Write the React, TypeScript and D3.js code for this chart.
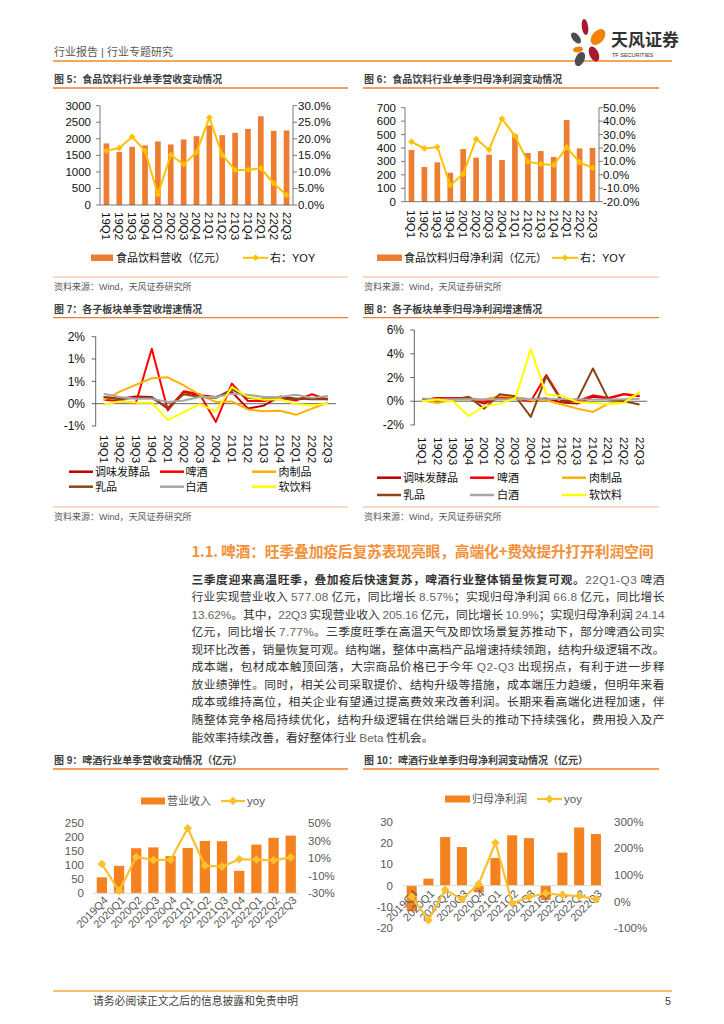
import React from "react";
import * as d3 from "d3";

// ---------------- DATA ----------------
const quarters = ["19Q1","19Q2","19Q3","19Q4","20Q1","20Q2","20Q3","20Q4","21Q1","21Q2","21Q3","21Q4","22Q1","22Q2","22Q3"];
const fbRevenue = [1860,1600,1760,1800,1920,1830,1980,2080,2400,2110,2180,2300,2680,2240,2250];
const fbRevenueYoy = [16.4,17.2,20.6,16.4,3.2,15.1,12.3,15.9,26.4,15.1,10.6,10.6,11.1,6.5,3.0];
const fbProfit = [385,258,293,216,392,328,350,310,501,362,377,333,608,397,400];
const fbProfitYoy = [24.6,19.7,20.7,-7.8,0.6,26.7,18.7,41.8,28.9,9.8,8.0,7.3,20.5,9.3,5.3];

const fig5LeftTicks = [0,500,1000,1500,2000,2500,3000];
const fig5RightTicks = [0,5,10,15,20,25,30];
const fig6LeftTicks = [0,100,200,300,400,500,600,700];
const fig6RightTicks = [-20,-10,0,10,20,30,40,50];

const sectorNames = ["调味发酵品","啤酒","肉制品","乳品","白酒","软饮料"];
// Fig 7: revenue growth (%)
const revSeasoning = [0.15,0.11,0.16,0.15,-0.11,0.26,0.19,0.15,0.26,-0.11,-0.04,0.16,0.11,0.11,0.11];
const revBeer = [0.09,0.06,0.01,1.23,-0.15,0.28,0.21,-0.41,0.45,0.06,0.06,0.13,0.07,0.21,0.09];
const revMeat = [0.08,0.27,0.42,0.57,0.59,0.41,0.2,0.04,0.05,-0.13,-0.17,-0.16,-0.25,-0.11,0.02];
const revDairy = [0.15,0.10,0.13,0.13,-0.09,0.21,0.15,0.13,0.32,0.13,0.10,0.10,0.11,0.10,0.10];
const revLiquor = [0.22,0.15,0.11,0.11,0.04,0.07,0.15,0.15,0.22,0.20,0.15,0.15,0.20,0.13,0.17];
const revSoft = [-0.02,0.05,0.02,0.02,-0.37,-0.19,-0.01,-0.17,0.37,0.15,0.09,0.10,-0.01,-0.04,0.00];
const fig7TickValues = [-0.5,0,0.5,1,1.5];
const fig7TickLabels = ["-1%","0%","1%","1%","2%"];
// Fig 8: net profit growth (%)
const npSeasoning = [0.08,0.28,0.23,0.23,-0.2,0.37,0.28,0.17,0.23,-0.11,-0.2,0.37,0.23,0.59,0.42];
const npBeer = [0.14,0.23,0.28,0.28,0.0,0.23,0.23,0.0,2.2,0.08,0.0,0.5,0.28,0.62,0.45];
const npMeat = [0.08,-0.14,0.14,0.14,0.14,0.45,0.37,0.08,0.08,-0.28,-0.62,-0.9,-0.2,0.0,0.7];
const npDairy = [0.14,0.08,0.14,0.37,-0.62,0.59,0.42,-1.32,2.11,-0.06,0.14,2.76,0.14,0.0,-0.28];
const npLiquor = [0.23,0.14,0.17,0.17,0.14,0.17,0.17,0.2,0.17,0.2,0.14,0.14,0.14,0.17,0.2];
const npSoft = [0.0,0.14,0.0,-1.24,-0.42,-0.2,0.23,4.39,0.56,0.45,-0.06,-0.14,-0.25,-0.14,0.79];
const fig8TickValues = [-2,0,2,4,6];

const beerQuarters = ["2019Q4","2020Q1","2020Q2","2020Q3","2020Q4","2021Q1","2021Q2","2021Q3","2021Q4","2022Q1","2022Q2","2022Q3"];
const beerRevenue = [57,98,161,164,133,162,187,186,80,174,198,206];
const beerRevenueYoy = [3.5,-27.3,11.5,8.1,8.1,44.3,1.6,0.5,8.9,8.5,7.7,11.1];
const beerProfit = [-12,3.3,22.8,18.1,-3.1,13,23.6,22.3,-6.7,15.5,27.3,24.2];
const beerProfitYoy = [19,-70,45,9,66,221,-6,17.5,31,25,21,9];
const fig9LeftTicks = [0,50,100,150,200,250];
const fig9RightTicks = [-30,-10,10,30,50];
const fig10LeftTicks = [-20,-10,0,10,20,30];
const fig10RightTicks = [-100,0,100,200,300];

// ---------------- STYLE ----------------
const FONT = "'Liberation Sans', Arial, 'Noto Sans CJK SC', sans-serif";
const BAR = "#ED7D31";
const LINE = "#FFC000";
const BAR2 = "#F4821F";
const LINE2 = "#FBC02D";
const TITLE_LINE = "#ED7D31";
const sectorColors = ["#C00000","#FF0000","#FFB000","#8B4513","#A6A6A6","#FFFF00"];

const diamond = (cx: number, cy: number, s: number) =>
  `M${cx},${cy - s}L${cx + s},${cy}L${cx},${cy + s}L${cx - s},${cy}Z`;

function FigTitle({ x1, x2, y, text }: { x1: number; x2: number; y: number; text: string }) {
  return (
    <g>
      <text x={x1 + 1} y={y - 5} fontSize={10} fontWeight={700} fill="#404040">{text}</text>
      <line x1={x1} x2={x2} y1={y} y2={y} stroke={TITLE_LINE} strokeWidth={1.3} />
    </g>
  );
}

function Source({ x1, x2, y }: { x1: number; x2: number; y: number }) {
  return (
    <g>
      <line x1={x1} x2={x2} y1={y} y2={y} stroke="#F2A66B" strokeWidth={0.8} />
      <text x={x1 + 1} y={y + 13} fontSize={9} fill="#595959">资料来源：Wind，天风证券研究所</text>
    </g>
  );
}

function ComboA(props: any) {
  const { x0, x1, yTop, yBot, bars, yoy, leftDomain, rightDomain, leftTicks, rightTicks, leftLabelX, rightLabelX, catY } = props;
  const x = d3.scaleBand<string>().domain(quarters).range([x0, x1]);
  const yl = d3.scaleLinear().domain(leftDomain).range([yBot, yTop]);
  const yr = d3.scaleLinear().domain(rightDomain).range([yBot, yTop]);
  const bw = x.bandwidth() * 0.44;
  const cx = (i: number) => (x(quarters[i]) as number) + x.bandwidth() / 2;
  const line = d3.line<number>().x((_, i) => cx(i)).y((d) => yr(d));
  const fmtR = (v: number) => v.toFixed(1) + "%";
  return (
    <g>
      {bars.map((v: number, i: number) => (
        <rect key={i} x={cx(i) - bw / 2} y={yl(v)} width={bw} height={yl(leftDomain[0]) - yl(v)} fill={BAR} />
      ))}
      <line x1={x0} x2={x0} y1={yTop} y2={yBot} stroke="#595959" strokeWidth={0.8} />
      <line x1={x1} x2={x1} y1={yTop} y2={yBot} stroke="#595959" strokeWidth={0.8} />
      <line x1={x0} x2={x1} y1={yBot} y2={yBot} stroke="#595959" strokeWidth={0.8} />
      {leftTicks.map((t: number) => (
        <g key={"l" + t}>
          <line x1={x0 - 4} x2={x0} y1={yl(t)} y2={yl(t)} stroke="#595959" strokeWidth={0.8} />
          <text x={leftLabelX} y={yl(t)} dy="0.35em" textAnchor="end" fontSize={11.5} fill="#111">{t}</text>
        </g>
      ))}
      {rightTicks.map((t: number) => (
        <g key={"r" + t}>
          <line x1={x1} x2={x1 + 4} y1={yr(t)} y2={yr(t)} stroke="#595959" strokeWidth={0.8} />
          <text x={rightLabelX} y={yr(t)} dy="0.35em" fontSize={11.5} fill="#111">{fmtR(t)}</text>
        </g>
      ))}
      {quarters.map((q, i) => (
        <text key={q} transform={`translate(${cx(i)},${catY}) rotate(90)`} dy="0.35em" fontSize={11.5} fill="#111">{q}</text>
      ))}
      <path d={line(yoy) as string} fill="none" stroke={LINE} strokeWidth={2} />
      {yoy.map((v: number, i: number) => (
        <path key={i} d={diamond(cx(i), yr(v), 3.3)} fill={LINE} />
      ))}
    </g>
  );
}

function LinesChart(props: any) {
  const { x0, x1, yTop, yBot, domain, series, tickValues, tickLabels, labelX, catY } = props;
  const x = d3.scaleBand<string>().domain(quarters).range([x0, x1]);
  const y = d3.scaleLinear().domain(domain).range([yBot, yTop]);
  const cx = (i: number) => (x(quarters[i]) as number) + x.bandwidth() / 2;
  const line = d3.line<number>().x((_, i) => cx(i)).y((d) => y(d));
  return (
    <g>
      <line x1={x0} x2={x0} y1={yTop} y2={yBot} stroke="#404040" strokeWidth={0.8} />
      {tickValues.map((t: number, k: number) => (
        <g key={k}>
          <line x1={x0 - 4} x2={x0} y1={y(t)} y2={y(t)} stroke="#404040" strokeWidth={0.8} />
          <text x={labelX} y={y(t)} dy="0.35em" textAnchor="end" fontSize={12} fill="#111">{tickLabels[k]}</text>
        </g>
      ))}
      <line x1={x0} x2={x1} y1={y(0)} y2={y(0)} stroke="#404040" strokeWidth={0.8} />
      {series.map((s: number[], k: number) => (
        <path key={k} d={line(s) as string} fill="none" stroke={sectorColors[k]} strokeWidth={2} strokeLinejoin="round" />
      ))}
      {quarters.map((q, i) => (
        <text key={q} transform={`translate(${cx(i)},${catY}) rotate(90)`} dy="0.35em" fontSize={11.5} fill="#111">{q}</text>
      ))}
    </g>
  );
}

function SectorLegend({ rows, swX, txX }: { rows: number[]; swX: number[]; txX: number[] }) {
  return (
    <g>
      {sectorNames.map((n, k) => {
        const r = Math.floor(k / 3);
        const c = k % 3;
        return (
          <g key={n}>
            <line x1={swX[c]} x2={swX[c] + 24} y1={rows[r]} y2={rows[r]} stroke={sectorColors[k]} strokeWidth={2.5} />
            <text x={txX[c]} y={rows[r]} dy="0.35em" fontSize={11} fill="#111">{n}</text>
          </g>
        );
      })}
    </g>
  );
}

function ComboB(props: any) {
  const { x0, x1, yTop, yBot, bars, yoy, leftDomain, rightDomain, leftTicks, rightTicks, leftLabelX, rightLabelX, catDy } = props;
  const x = d3.scaleBand<string>().domain(beerQuarters).range([x0, x1]);
  const yl = d3.scaleLinear().domain(leftDomain).range([yBot, yTop]);
  const yr = d3.scaleLinear().domain(rightDomain).range([yBot, yTop]);
  const bw = x.bandwidth() * 0.6;
  const cx = (i: number) => (x(beerQuarters[i]) as number) + x.bandwidth() / 2;
  const line = d3.line<number>().x((_, i) => cx(i)).y((d) => yr(d / 100));
  const y0 = yl(0);
  return (
    <g>
      {leftTicks.map((t: number) => (
        <text key={"l" + t} x={leftLabelX} y={yl(t)} dy="0.35em" textAnchor="end" fontSize={11.5} fill="#595959">{t}</text>
      ))}
      {rightTicks.map((t: number) => (
        <text key={"r" + t} x={rightLabelX} y={yr(t / 100)} dy="0.35em" fontSize={11.5} fill="#595959">{t + "%"}</text>
      ))}
      {bars.map((v: number, i: number) => (
        <rect key={i} x={cx(i) - bw / 2} y={Math.min(yl(v), y0)} width={bw} height={Math.abs(yl(v) - y0)} fill={BAR2} />
      ))}
      <line x1={x0} x2={x1} y1={y0} y2={y0} stroke="#D9D9D9" strokeWidth={1} />
      {beerQuarters.map((q, i) => (
        <text key={q} transform={`translate(${cx(i) + 4},${y0 + catDy}) rotate(-45)`} dy="0.35em" textAnchor="end" fontSize={11} fill="#595959">{q}</text>
      ))}
      <path d={line(yoy) as string} fill="none" stroke={LINE2} strokeWidth={2.2} />
      {yoy.map((v: number, i: number) => (
        <path key={i} d={diamond(cx(i), yr(v / 100), 4.3)} fill={LINE2} />
      ))}
    </g>
  );
}

function Header() {
  return (
    <g>
      <text x={54} y={56} fontSize={11} fill="#595959">行业报告 | 行业专题研究</text>
      <line x1={53} x2={672} y1={61} y2={61} stroke="#F08A24" strokeWidth={1.5} />
      <ellipse cx={585} cy={27} rx={3.2} ry={8} fill="#A6192E" transform="rotate(-8 585 27)" />
      <ellipse cx={598} cy={37} rx={6} ry={9} fill="#F08300" transform="rotate(40 598 37)" />
      <ellipse cx={576} cy={38} rx={3.6} ry={6.5} fill="#4D4D4D" transform="rotate(-40 576 38)" />
      <ellipse cx={578} cy={49.5} rx={5} ry={2.8} fill="#F08300" transform="rotate(-10 578 49.5)" />
      <ellipse cx={594} cy={54} rx={4.5} ry={8} fill="#A6192E" transform="rotate(-25 594 54)" />
      <ellipse cx={580} cy={59} rx={4.5} ry={7.5} fill="#4D4D4D" transform="rotate(25 580 59)" />
      <text x={611} y={46} fontSize={17} fontWeight={700} fill="#333" fontFamily="'Noto Sans CJK SC', sans-serif">天风证券</text>
      <text x={612} y={57} fontSize={5.5} fill="#333">TF SECURITIES</text>
    </g>
  );
}

const paraLines: string[] = [
  "22Q1-Q3 啤酒",
  "行业实现营业收入 577.08 亿元，同比增长 8.57%；实现归母净利润 66.8 亿元，同比增长",
  "13.62%。其中，22Q3 实现营业收入 205.16 亿元，同比增长 10.9%；实现归母净利润 24.14",
  "亿元，同比增长 7.77%。三季度旺季在高温天气及即饮场景复苏推动下，部分啤酒公司实",
  "现环比改善，销量恢复可观。结构端，整体中高档产品增速持续领跑，结构升级逻辑不改。",
  "成本端，包材成本触顶回落，大宗商品价格已于今年 Q2-Q3 出现拐点，有利于进一步释",
  "放业绩弹性。同时，相关公司采取提价、结构升级等措施，成本端压力趋缓，但明年来看",
  "成本或维持高位，相关企业有望通过提高费效来改善利润。长期来看高端化进程加速，伴",
  "随整体竞争格局持续优化，结构升级逻辑在供给端巨头的推动下持续强化，费用投入及产",
  "能效率持续改善，看好整体行业 Beta 性机会。",
];

function Segs({ s }: { s: string }) {
  const parts = s.split(/([\x21-\x7E]+)/).filter((p) => p.length > 0);
  return (
    <>
      {parts.map((p, i) =>
        /^[\x21-\x7E]+$/.test(p) ? (
          <tspan key={i} fill="#666" fontFamily="'Liberation Sans', Arial, sans-serif">{p}</tspan>
        ) : (
          <tspan key={i}>{p}</tspan>
        )
      )}
    </>
  );
}

function Paragraph() {
  const x = 191.5;
  const w = 473;
  const ys = [579.3, 596.8, 614.3, 631.8, 649.3, 666.8, 684.6, 702.2, 719.8, 737.3];
  const fs = 11.8;
  return (
    <g fontFamily="'Noto Sans CJK SC', 'Liberation Sans', sans-serif" fontSize={fs} fill="#333">
      <text x={191.5} y={557} fontSize={14.8} fontWeight={700} fill="#F3913A" textLength={462} lengthAdjust="spacing">
        1.1. 啤酒：旺季叠加疫后复苏表现亮眼，高端化+费效提升打开利润空间
      </text>
      <text x={x} y={ys[0] + 4.2} textLength={w} lengthAdjust="spacing">
        <tspan fontWeight={700} fill="#333">三季度迎来高温旺季，叠加疫后快速复苏，啤酒行业整体销量恢复可观。</tspan>
        <Segs s={paraLines[0]} />
      </text>
      {paraLines.slice(1).map((l, i) => {
        const last = i === paraLines.length - 2;
        return (
          <text key={i} x={x} y={ys[i + 1] + 4.2} {...(last ? {} : { textLength: w, lengthAdjust: "spacing" })}>
            <Segs s={l} />
          </text>
        );
      })}
    </g>
  );
}

export default function App() {
  return (
    <svg width={724} height={1024} style={{ position: "absolute", left: 0, top: 0 }} fontFamily={FONT}>
      <rect width={724} height={1024} fill="#fff" />
      <Header />

      {/* Fig 5 */}
      <FigTitle x1={53} x2={348} y={88} text="图 5：食品饮料行业单季营收变动情况" />
      <ComboA x0={100} x1={293} yTop={105.7} yBot={205} bars={fbRevenue} yoy={fbRevenueYoy}
        leftDomain={[0, 3000]} rightDomain={[0, 30]} leftTicks={fig5LeftTicks} rightTicks={fig5RightTicks}
        leftLabelX={91} rightLabelX={298} catY={212} />
      <rect x={91} y={254.5} width={22} height={6.5} fill={BAR} />
      <text x={116} y={257.8} dy="0.35em" fontSize={11} fill="#111">食品饮料营收（亿元）</text>
      <line x1={243} x2={268} y1={257.8} y2={257.8} stroke={LINE} strokeWidth={2} />
      <path d={diamond(255.5, 257.8, 3.3)} fill={LINE} />
      <text x={270} y={257.8} dy="0.35em" fontSize={11} fill="#111">右：YOY</text>
      <Source x1={53} x2={348} y={277} />

      {/* Fig 6 */}
      <FigTitle x1={363} x2={659} y={88} text="图 6：食品饮料行业单季归母净利润变动情况" />
      <ComboA x0={405} x1={599} yTop={107.7} yBot={201.7} bars={fbProfit} yoy={fbProfitYoy}
        leftDomain={[0, 700]} rightDomain={[-20, 50]} leftTicks={fig6LeftTicks} rightTicks={fig6RightTicks}
        leftLabelX={396} rightLabelX={603} catY={210} />
      <rect x={377} y={254.5} width={25} height={6.5} fill={BAR} />
      <text x={404} y={257.8} dy="0.35em" fontSize={11} fill="#111">食品饮料归母净利润（亿元）</text>
      <line x1={552} x2={578} y1={257.8} y2={257.8} stroke={LINE} strokeWidth={2} />
      <path d={diamond(565, 257.8, 3.3)} fill={LINE} />
      <text x={580} y={257.8} dy="0.35em" fontSize={11} fill="#111">右：YOY</text>
      <Source x1={363} x2={659} y={277} />

      {/* Fig 7 */}
      <FigTitle x1={53} x2={348} y={317.7} text="图 7：各子板块单季营收增速情况" />
      <LinesChart x0={95.7} x1={336} yTop={336.7} yBot={426} domain={[-0.5, 1.5]}
        series={[revSeasoning, revBeer, revMeat, revDairy, revLiquor, revSoft]}
        tickValues={fig7TickValues} tickLabels={fig7TickLabels} labelX={85} catY={435} />
      <SectorLegend rows={[471.7, 486.7]} swX={[69, 160, 252]} txX={[95, 185.5, 278.5]} />
      <Source x1={53} x2={348} y={507} />

      {/* Fig 8 */}
      <FigTitle x1={363} x2={659} y={317.7} text="图 8：各子板块单季归母净利润增速情况" />
      <LinesChart x0={414.3} x1={647.3} yTop={330} yBot={425} domain={[-2, 6]}
        series={[npSeasoning, npBeer, npMeat, npDairy, npLiquor, npSoft]}
        tickValues={fig8TickValues} tickLabels={fig8TickValues.map((v) => v + "%")} labelX={404} catY={437} />
      <SectorLegend rows={[477.7, 495]} swX={[377, 470, 562]} txX={[403, 497, 589]} />
      <Source x1={363} x2={659} y={507} />

      <Paragraph />

      {/* Fig 9 */}
      <FigTitle x1={53} x2={348} y={769} text="图 9：啤酒行业单季营收变动情况（亿元）" />
      <rect x={141} y={797.5} width={24} height={7} fill={BAR2} />
      <text x={167} y={801} dy="0.35em" fontSize={11} fill="#595959">营业收入</text>
      <line x1={221} x2={245} y1={801} y2={801} stroke={LINE2} strokeWidth={2.2} />
      <path d={diamond(233, 801, 4.3)} fill={LINE2} />
      <text x={247} y={801} dy="0.35em" fontSize={11.5} fill="#595959">yoy</text>
      <ComboB x0={93.3} x1={299.3} yTop={823.3} yBot={893.3} bars={beerRevenue} yoy={beerRevenueYoy}
        leftDomain={[0, 250]} rightDomain={[-0.3, 0.5]} leftTicks={fig9LeftTicks} rightTicks={fig9RightTicks}
        leftLabelX={84} rightLabelX={308} catDy={5} />

      {/* Fig 10 */}
      <FigTitle x1={363} x2={659} y={769} text="图 10：啤酒行业单季归母净利润变动情况（亿元）" />
      <rect x={445} y={795.5} width={25} height={7} fill={BAR2} />
      <text x={472} y={799} dy="0.35em" fontSize={11} fill="#595959">归母净利润</text>
      <line x1={537} x2={562} y1={799} y2={799} stroke={LINE2} strokeWidth={2.2} />
      <path d={diamond(549.5, 799, 4.3)} fill={LINE2} />
      <text x={564} y={799} dy="0.35em" fontSize={11.5} fill="#595959">yoy</text>
      <ComboB x0={403.3} x1={604.3} yTop={821.7} yBot={928.3} bars={beerProfit} yoy={beerProfitYoy}
        leftDomain={[-20, 30]} rightDomain={[-1, 3]} leftTicks={fig10LeftTicks} rightTicks={fig10RightTicks}
        leftLabelX={393} rightLabelX={614} catDy={6} />

      {/* Footer */}
      <line x1={53} x2={672} y1={991} y2={991} stroke="#F5A842" strokeWidth={1.3} />
      <text x={93} y={1005} fontSize={10.8} fill="#404040" fontFamily="'Noto Sans CJK SC', sans-serif">请务必阅读正文之后的信息披露和免责申明</text>
      <text x={665} y={1005} fontSize={10.8} fill="#404040">5</text>
    </svg>
  );
}
